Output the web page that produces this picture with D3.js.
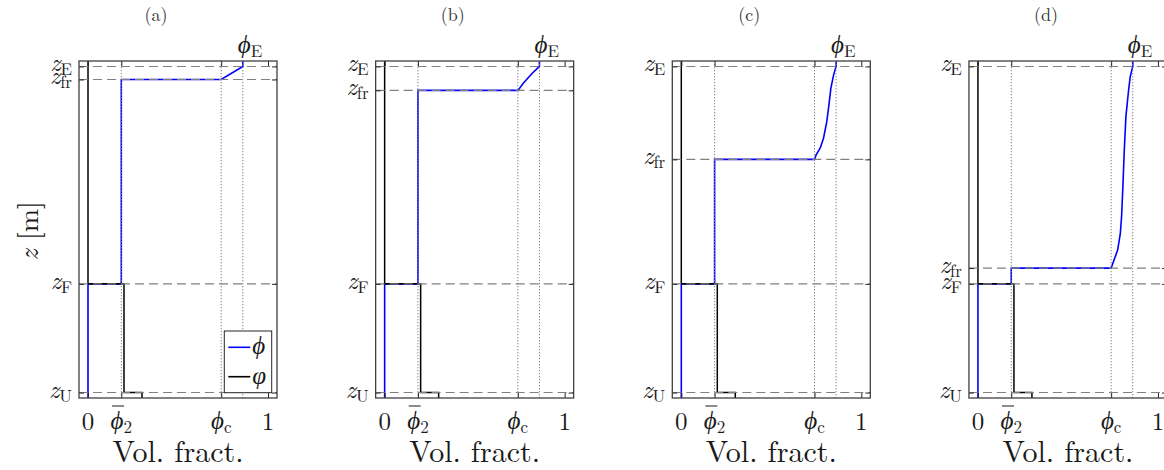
<!DOCTYPE html>
<html>
<head>
<meta charset="utf-8">
<script src="https://cdn.jsdelivr.net/npm/d3@7"></script>
<style>
  body { margin: 0; background: #fff; }
</style>
</head>
<body>
<svg id="fig" width="1164" height="470"></svg>
<script>
// Panel titles
const panelTitles = ["(a)", "(b)", "(c)", "(d)"];

// Heights [m]: underflow, feed and effluent levels
const zU = -1, zF = 0, zE = 2;
// Height of the sediment front in each panel
const zFr = [1.88, 1.78, 1.145, 0.145];

// Characteristic volume fractions
const phiBar2 = 0.185, phiC = 0.74, phiE = 0.86;
// Second (liquid-related) volume fraction below the feed and in the underflow
const varphiFeed = 0.2, varphiUnder = 0.3;

// Transition of phi from phiC at the front up to phiE at the effluent level
const transPhi = [
  [0.74, 0.86],
  [0.741, 0.77, 0.82, 0.85, 0.86],
  [0.74, 0.75, 0.772, 0.79, 0.808, 0.82, 0.831, 0.846, 0.856, 0.86],
  [0.74, 0.776, 0.791, 0.798, 0.806, 0.813, 0.822, 0.837, 0.846, 0.86]
];
const transZ = [
  [1.88, 2.0],
  [1.78, 1.845, 1.937, 1.985, 2.0],
  [1.145, 1.19, 1.25, 1.34, 1.49, 1.645, 1.8, 1.92, 1.98, 2.0],
  [0.145, 0.311, 0.465, 0.619, 0.925, 1.231, 1.538, 1.783, 1.906, 2.0]
];

// Tick label pieces: [main, subscript]
const xTickValues = [0, phiBar2, phiC, 1];
const zTickLabels = [["z", "U"], ["z", "F"], ["z", "fr"], ["z", "E"]];
const xLabelText = "Vol. fract.";
const yLabelText = ["z", " [m]"];
const legendSymbols = ["\u03D5", "\u03C6"];

const FONT = "'Latin Modern Roman', 'Liberation Serif', serif";
const svg = d3.select("#fig");
const W = 198, plotTop = 61, plotBottom = 398, firstLeft = 79, step = 296.65;
const BLUE = "#0000ff", REF = "#808080", AX = "#404040", INK = "#1a1a1a";
const MAIN = 25, SUB = 17;

const txt = (sel) => sel.append("text").style("font-family", FONT).attr("fill", INK);

panelTitles.forEach((title, i) => {
  const left = firstLeft + i * step;
  const x = d3.scaleLinear().domain([-0.05, 1.05]).range([left, left + W]);
  const y = d3.scaleLinear().domain([-1.05, 2.05]).range([plotBottom, plotTop]);
  const [z0, z1] = y.domain();
  const g = svg.append("g");
  const line = d3.line().x(d => x(d[0])).y(d => y(d[1]));

  // phi profile
  const phiPts = [[0, z0], [0, zF], [phiBar2, zF], [phiBar2, zFr[i]]]
    .concat(transPhi[i].map((p, k) => [p, transZ[i][k]]))
    .concat([[phiE, z1]]);
  g.append("path").attr("d", line(phiPts))
    .attr("fill", "none").attr("stroke", BLUE).attr("stroke-width", 1.6);

  // varphi profile
  const varphiPts = [[varphiUnder, z0], [varphiUnder, zU], [varphiFeed, zU],
                     [varphiFeed, zF], [0, zF], [0, z1]];
  g.append("path").attr("d", line(varphiPts))
    .attr("fill", "none").attr("stroke", "#000").attr("stroke-width", 1.5);

  // reference levels (dashed) and reference fractions (dotted)
  const zLevels = [zU, zF, zFr[i], zE];
  g.selectAll(".hz").data(zLevels).enter().append("line")
    .attr("x1", x(-0.05)).attr("x2", x(1.05))
    .attr("y1", d => y(d)).attr("y2", d => y(d))
    .attr("stroke", REF).attr("stroke-width", 1.1).attr("stroke-dasharray", "9,5");
  g.selectAll(".vt").data([phiBar2, phiC, phiE]).enter().append("line")
    .attr("x1", d => x(d)).attr("x2", d => x(d))
    .attr("y1", plotTop).attr("y2", plotBottom)
    .attr("stroke", REF).attr("stroke-width", 1).attr("stroke-dasharray", "1.3,1.7");

  // ticks on all four sides, pointing inward
  const tickAxes = [
    [d3.axisBottom(x).tickValues(xTickValues), `translate(0,${plotBottom})`],
    [d3.axisTop(x).tickValues(xTickValues), `translate(0,${plotTop})`],
    [d3.axisLeft(y).tickValues(zLevels), `translate(${left},0)`],
    [d3.axisRight(y).tickValues(zLevels), `translate(${left + W},0)`]
  ];
  tickAxes.forEach(([ax, tr]) => {
    const a = g.append("g").attr("transform", tr)
      .call(ax.tickSize(-5).tickFormat(""));
    a.select(".domain").remove();
    a.selectAll("line").attr("stroke", "#262626").attr("stroke-width", 1);
  });

  // axes box
  g.append("rect").attr("x", left).attr("y", plotTop).attr("width", W).attr("height", plotBottom - plotTop)
    .attr("fill", "none").attr("stroke", AX).attr("stroke-width", 1.3);

  // z tick labels
  zTickLabels.forEach(([m, s], k) => {
    const t = txt(g).attr("x", left - 7).attr("y", y(zLevels[k]) + 5)
      .attr("text-anchor", "end");
    t.append("tspan").attr("font-style", "italic").attr("font-size", MAIN).text(m);
    t.append("tspan").attr("font-size", SUB).attr("dy", 4).text(s);
  });

  // x tick labels
  [0, 1].forEach(v => {
    txt(g).attr("x", x(v)).attr("y", 430).attr("text-anchor", "middle")
      .attr("font-size", MAIN).text(v);
  });
  const phiLabel = (xv, yb, sub, bar, anchor) => {
    const t = txt(g).attr("x", xv).attr("y", yb).attr("text-anchor", anchor);
    t.append("tspan").attr("font-style", "italic").attr("font-size", MAIN).text("\u03D5");
    t.append("tspan").attr("font-size", SUB).attr("dy", 4).text(sub);
    if (bar) {
      // mean-value bar over the phi glyph
      const n = t.node();
      const x0 = n.getStartPositionOfChar(0).x, x1 = n.getEndPositionOfChar(0).x;
      g.append("line").attr("x1", x0 + 1.5).attr("x2", x1 + 0.5)
        .attr("y1", yb - 23).attr("y2", yb - 23)
        .attr("stroke", INK).attr("stroke-width", 1);
    }
  };
  phiLabel(x(phiBar2), 429, "2", true, "middle");
  phiLabel(x(phiC), 429, "c", false, "middle");
  phiLabel(x(phiE) - 5, 53, "E", false, "start");

  // axis label and panel title
  txt(g).attr("x", left + W / 2).attr("y", 462).attr("text-anchor", "middle")
    .attr("font-size", 30).text(xLabelText);
  txt(g).attr("x", left + 77).attr("y", 21).attr("text-anchor", "middle")
    .attr("font-size", 18).attr("fill", "#333").text(title);

  if (i === 0) {
    // z-axis label
    const t = txt(g).attr("transform", "translate(38,231) rotate(-90)")
      .attr("text-anchor", "middle").attr("font-size", 28);
    t.append("tspan").attr("font-style", "italic").text(yLabelText[0]);
    t.append("tspan").text(yLabelText[1]);

    // legend
    const lx = left + 145.3, ly = 331;
    g.append("rect").attr("x", lx).attr("y", ly).attr("width", 47.4).attr("height", 61.7)
      .attr("fill", "#fff").attr("stroke", "#262626").attr("stroke-width", 1);
    [[BLUE, 347.3], ["#000", 376.7]].forEach(([c, yy], k) => {
      g.append("line").attr("x1", lx + 4).attr("x2", lx + 26).attr("y1", yy).attr("y2", yy)
        .attr("stroke", c).attr("stroke-width", 1.6);
      txt(g).attr("x", lx + 28).attr("y", yy + 7).attr("font-size", MAIN)
        .attr("font-style", "italic").text(legendSymbols[k]);
    });
  }
});
</script>
</body>
</html>
